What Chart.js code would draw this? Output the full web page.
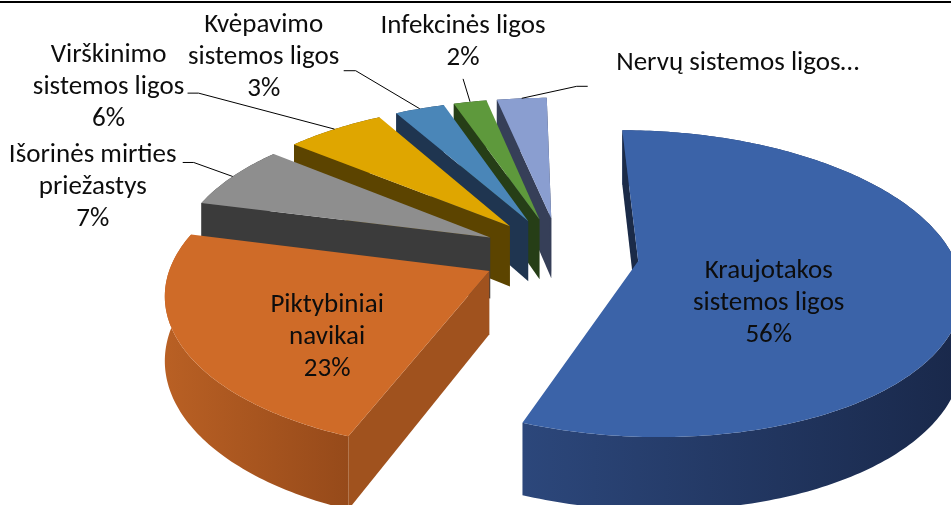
<!DOCTYPE html>
<html>
<head>
<meta charset="utf-8">
<script src="https://cdn.jsdelivr.net/npm/chart.js@4.4.1/dist/chart.umd.min.js"></script>
<style>
  html, body { margin: 0; padding: 0; background: #fff; overflow: hidden; }
  #wrap { position: relative; width: 951px; height: 505px; }
  #frame { position: absolute; left: 0; top: 1px; width: 951px; height: 2px; background: #000; }
</style>
</head>
<body>
<div id="wrap">
  <canvas id="pieChart" width="951" height="505"></canvas>
  <div id="frame"></div>
</div>
<script>
// data
const categories = [
  'Kraujotakos sistemos ligos',
  'Piktybiniai navikai',
  'Išorinės mirties priežastys',
  'Virškinimo sistemos ligos',
  'Kvėpavimo sistemos ligos',
  'Infekcinės ligos',
  'Nervų sistemos ligos'
];
const shares = [56, 23, 7, 6, 3, 2, 3];
const labelNames = [
  ['Kraujotakos', 'sistemos ligos'],
  ['Piktybiniai', 'navikai'],
  ['Išorinės mirties', 'priežastys'],
  ['Virškinimo', 'sistemos ligos'],
  ['Kvėpavimo', 'sistemos ligos'],
  ['Infekcinės ligos'],
  ['Nervų sistemos ligos…']
];
const showPercent = [true, true, true, true, true, true, false];

// colours: top face, flat side, curved side light -> dark
const topColors = ['#3b63a8', '#cf6b28', '#8e8e8e', '#dfa600', '#4a86b8', '#5e993c', '#8a9ed0'];
const sideColors = ['#1b2b48', '#a0521e', '#3b3b3b', '#5c4400', '#1f3550', '#263e17', '#363f58'];
const curveLight = ['#2c477b', '#b96024', '#4a4a4a', '#6a4f00', '#2a4668', '#2f4d1d', '#444e6c'];
const curveDark = ['#19284a', '#964a1a', '#383838', '#574100', '#1c3049', '#223614', '#323a52'];

// 3d view (tilted, perspective)
const view = { cx: 560, cy: 254, sx: 315, sy: 148, depth: 62, persp: 0.147, explode: 0.25, shift: -45 };

// label placement relative to slice anchor, leader start relative to text block
const labelLayout = [
  { inside: true, dx: -13, dy: 29 },
  { inside: true, dx: -29, dy: 34 },
  { dx: -140, dy: 11, leader: [90, -25, 11] },
  { dx: -226, dy: -42, leader: [79, 6, 11] },
  { dx: -156, dy: -51, leader: [80, 13, 12] },
  { dx: -7, dy: -60, leader: [0, 37, 0] },
  { dx: 216, dy: -35, leader: [-150, 23, -11] }
];

function project(X, Y, bottom) {
  const k = 1 / (1 + Y * view.persp);
  return [
    view.cx + view.sx * X * k + view.shift * (1 - k),
    view.cy + k * (-view.sy * Y + (bottom ? view.depth : 0))
  ];
}

function sliceGeometry(arc, i) {
  const am = (arc.startAngle + arc.endAngle) / 2;
  return {
    i: i,
    a0: arc.startAngle,
    a1: arc.endAngle,
    am: am,
    ox: view.explode * Math.cos(am),
    oy: -view.explode * Math.sin(am)
  };
}

function point(s, r, a, bottom) {
  return project(s.ox + r * Math.cos(a), s.oy - r * Math.sin(a), bottom);
}

function rimPoints(s, bottom) {
  const n = Math.max(2, Math.ceil((s.a1 - s.a0) * 60));
  const pts = [];
  for (let j = 0; j <= n; j++) {
    pts.push(point(s, 1, s.a0 + (s.a1 - s.a0) * j / n, bottom));
  }
  return pts;
}

function fillPoly(ctx, pts, style) {
  ctx.beginPath();
  ctx.moveTo(pts[0][0], pts[0][1]);
  for (let j = 1; j < pts.length; j++) ctx.lineTo(pts[j][0], pts[j][1]);
  ctx.closePath();
  ctx.fillStyle = style;
  ctx.fill();
}

function radialVisible(s, a, dir) {
  // outward normal of the cut face, camera sits in front of the pie
  const na = a + dir * Math.PI / 2;
  const nx = Math.cos(na), ny = Math.sin(na);
  const camX = 0 - s.ox, camY = 1 / view.persp + s.oy;
  return camX * nx + camY * ny > 0;
}

function drawSides(ctx, s) {
  const top = rimPoints(s, false);
  const bot = rimPoints(s, true);
  const band = top.concat(bot.slice().reverse());
  let minX = Infinity, maxX = -Infinity;
  band.forEach(p => { minX = Math.min(minX, p[0]); maxX = Math.max(maxX, p[0]); });
  const grad = ctx.createLinearGradient(minX, 0, maxX, 0);
  grad.addColorStop(0, curveLight[s.i]);
  grad.addColorStop(1, curveDark[s.i]);
  fillPoly(ctx, band, grad);

  const apexTop = point(s, 0, 0, false);
  const apexBot = point(s, 0, 0, true);
  [[s.a0, -1], [s.a1, 1]].forEach(([a, dir]) => {
    if (!radialVisible(s, a, dir)) return;
    fillPoly(ctx, [apexTop, point(s, 1, a, false), point(s, 1, a, true), apexBot], sideColors[s.i]);
  });
}

function drawTop(ctx, s) {
  fillPoly(ctx, [point(s, 0, 0, false)].concat(rimPoints(s, false)), topColors[s.i]);
}

const pie3d = {
  id: 'pie3d',
  beforeDatasetsDraw(chart) {
    const ctx = chart.ctx;
    const slices = chart.getDatasetMeta(0).data.map((arc, i) => sliceGeometry(arc, i));
    const order = slices.slice().sort((p, q) => q.oy - p.oy);
    ctx.save();
    order.forEach(s => drawSides(ctx, s));
    order.forEach(s => drawTop(ctx, s));
    ctx.restore();
    return false;
  },
  afterDraw(chart) {
    const ctx = chart.ctx;
    const slices = chart.getDatasetMeta(0).data.map((arc, i) => sliceGeometry(arc, i));
    const lineH = 32;
    ctx.save();
    ctx.font = '27px "Carlito", "Lato", sans-serif';
    ctx.textAlign = 'center';
    ctx.textBaseline = 'middle';
    slices.forEach(s => {
      const lay = labelLayout[s.i];
      const anchor = lay.inside ? point(s, 0.45, s.am, false) : point(s, 1, s.am, false);
      const bx = anchor[0] + lay.dx, by = anchor[1] + lay.dy;
      const lines = labelNames[s.i].slice();
      if (showPercent[s.i]) lines.push(shares[s.i] + '%');
      ctx.fillStyle = '#0d0d0d';
      lines.forEach((t, j) => ctx.fillText(t, bx, by + (j - (lines.length - 1) / 2) * lineH));
      if (lay.leader) {
        const [lx, ly, elbow] = lay.leader;
        ctx.beginPath();
        ctx.moveTo(bx + lx, by + ly);
        ctx.lineTo(bx + lx + elbow, by + ly);
        ctx.lineTo(anchor[0], anchor[1]);
        ctx.strokeStyle = '#000';
        ctx.lineWidth = 1;
        ctx.stroke();
      }
    });
    ctx.restore();
  }
};

const pieCtx = document.getElementById('pieChart').getContext('2d');
new Chart(pieCtx, {
  type: 'pie',
  data: {
    labels: categories,
    datasets: [{
      data: shares,
      backgroundColor: topColors,
      borderWidth: 0
    }]
  },
  options: {
    responsive: false,
    animation: false,
    events: [],
    plugins: {
      legend: { display: false },
      tooltip: { enabled: false }
    }
  },
  plugins: [pie3d]
});
</script>
</body>
</html>
